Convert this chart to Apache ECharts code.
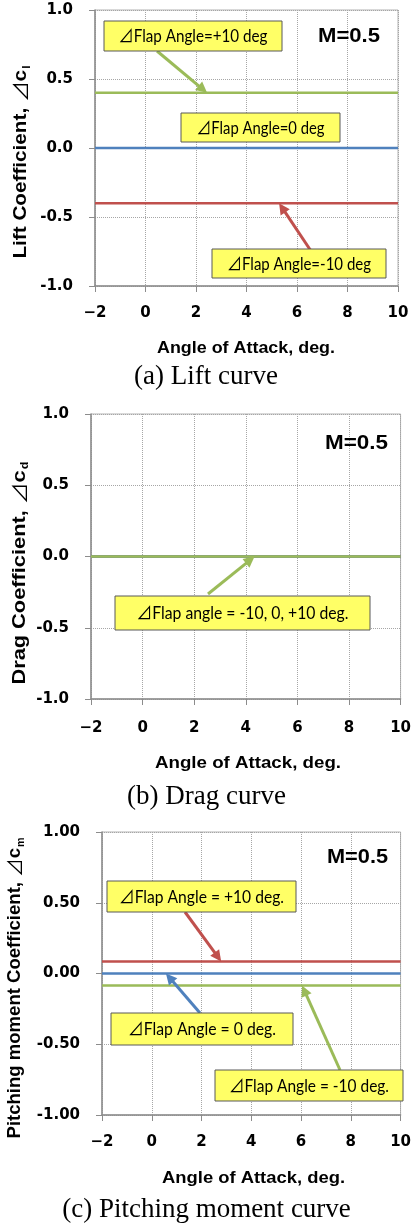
<!DOCTYPE html>
<html><head><meta charset="utf-8">
<script src="https://cdn.jsdelivr.net/npm/echarts@6/dist/echarts.min.js"></script>
<style>html,body{margin:0;padding:0;background:#fff}#c{width:414px;height:1224px}</style>
</head><body><div id="c"></div>
<script>
// ---- data ----
const angles = [-2, 0, 2, 4, 6, 8, 10];
const xTicks = [-2, 0, 2, 4, 6, 8, 10];
const yTicks = [-1.0, -0.5, 0.0, 0.5, 1.0];
const liftPlus10  = [0.40, 0.40, 0.40, 0.40, 0.40, 0.40, 0.40];
const liftZero    = [0, 0, 0, 0, 0, 0, 0];
const liftMinus10 = [-0.40, -0.40, -0.40, -0.40, -0.40, -0.40, -0.40];
const dragPlus10  = [0, 0, 0, 0, 0, 0, 0];
const dragZero    = [0, 0, 0, 0, 0, 0, 0];
const dragMinus10 = [0, 0, 0, 0, 0, 0, 0];
const momentPlus10  = [0.085, 0.085, 0.085, 0.085, 0.085, 0.085, 0.085];
const momentZero    = [0, 0, 0, 0, 0, 0, 0];
const momentMinus10 = [-0.085, -0.085, -0.085, -0.085, -0.085, -0.085, -0.085];

const GREEN = '#9BBB59', BLUE = '#4F81BD', RED = '#C0504D';
const AX = '#8c8c8c';

const chart = echarts.init(document.getElementById('c'));
const zip = v => angles.map((a, i) => [a, v[i]]);

function xAxis(i, margin) {
  return {
    type: 'value', gridIndex: i, min: xTicks[0], max: xTicks[xTicks.length - 1], interval: 2,
    axisLine: { onZero: false, lineStyle: { color: AX, width: 1.5 } },
    axisTick: { show: true, length: 6, lineStyle: { color: AX } },
    axisLabel: { margin: margin, color: '#000', fontFamily: 'DejaVu Sans', fontWeight: 'bold', fontSize: 15,
      formatter: v => v < 0 ? '\u2212' + Math.abs(v) : String(v) },
    splitLine: { show: true, lineStyle: { type: 'dotted', color: '#a6a6a6' } }
  };
}
function yAxis(i, dec) {
  return {
    type: 'value', gridIndex: i, min: yTicks[0], max: yTicks[yTicks.length - 1], interval: 0.5,
    axisLine: { onZero: false, lineStyle: { color: AX, width: 1.5 } },
    axisTick: { show: true, length: 6, lineStyle: { color: AX } },
    axisLabel: { margin: 22, color: '#000', fontFamily: 'DejaVu Sans', fontWeight: 'bold', fontSize: 15,
      formatter: v => v.toFixed(dec) },
    splitLine: { show: true, lineStyle: { type: 'dotted', color: '#a6a6a6' } }
  };
}
function line(g, vals, color) {
  return { type: 'line', xAxisIndex: g, yAxisIndex: g, data: zip(vals), showSymbol: false, symbol: 'none',
    lineStyle: { color: color, width: 2.5 }, itemStyle: { color: color }, silent: true, z: 3 };
}
const gridBase = { show: true, borderColor: '#b3b3b3', borderWidth: 1, backgroundColor: '#fff' };

chart.setOption({
  animation: false,
  backgroundColor: '#fff',
  grid: [
    Object.assign({ left: 95, top: 10, width: 303, height: 276 }, gridBase),
    Object.assign({ left: 91, top: 414, width: 314, height: 285 }, gridBase),
    Object.assign({ left: 102, top: 832, width: 303, height: 283 }, gridBase)
  ],
  xAxis: [xAxis(0, 20), xAxis(1, 22), xAxis(2, 20)],
  yAxis: [yAxis(0, 1), yAxis(1, 1), yAxis(2, 2)],
  series: [
    line(0, liftPlus10, GREEN), line(0, liftZero, BLUE), line(0, liftMinus10, RED),
    line(1, dragMinus10, RED), line(1, dragZero, BLUE), line(1, dragPlus10, GREEN),
    line(2, momentPlus10, RED), line(2, momentZero, BLUE), line(2, momentMinus10, GREEN)
  ]
});

// ---- text / annotations ----
const mctx = document.createElement('canvas').getContext('2d');
function tw(text, font) { mctx.font = font; return mctx.measureText(text).width; }
const TRI = '\u22BF';
const BOXFONT = '17px Lato, "Noto Sans CJK JP"';
const BOLD = '"Liberation Sans", Arial, sans-serif';

const g = [];
function text(x, y, str, font, target, extra) {
  const sx = target ? target / tw(str, font) : 1;
  g.push(Object.assign({ type: 'text', x: x, y: y, scaleX: sx, z: 20,
    style: { text: str, font: font, fill: '#000', align: 'center', verticalAlign: 'middle',
      textAlign: 'center', textVerticalAlign: 'middle' } }, extra || {}));
}
function yTitle(x, y, main, sub, target) {
  const fm = 'bold 19px ' + BOLD, ft = '19px "Noto Sans CJK JP"', fs = 'bold 11px ' + BOLD;
  const nat = tw(main, fm) + tw(TRI, ft) + tw('c', fm) + tw(sub, fs);
  g.push({ type: 'text', x: x, y: y, rotation: Math.PI / 2, scaleX: target / nat, z: 20,
    style: { text: '{a|' + main + '}{t|' + TRI + '}{a|c}{s|' + sub + '}', align: 'center', verticalAlign: 'middle',
      textAlign: 'center', textVerticalAlign: 'middle',
      rich: {
        a: { font: fm, fill: '#000', lineHeight: 22, verticalAlign: 'middle' },
        t: { font: ft, fill: '#000', lineHeight: 22, verticalAlign: 'middle' },
        s: { font: fs, fill: '#000', lineHeight: 22, verticalAlign: 'bottom', padding: [0, 0, 0, 1] }
      } } });
}
function box(x1, y1, x2, y2, str, target) {
  g.push({ type: 'rect', shape: { x: x1, y: y1, width: x2 - x1, height: y2 - y1 }, z: 15,
    style: { fill: '#FFFF66', stroke: '#595959', lineWidth: 1 } });
  text((x1 + x2) / 2, (y1 + y2) / 2 + 1, str, BOXFONT, target);
}
function arrow(tail, grid, xv, yv, color) {
  const tip = chart.convertToPixel({ gridIndex: grid }, [xv, yv]);
  const dx = tip[0] - tail[0], dy = tip[1] - tail[1], L = Math.hypot(dx, dy), ux = dx / L, uy = dy / L;
  const hl = 11, hw = 5.5;
  const bx = tip[0] - ux * hl, by = tip[1] - uy * hl;
  g.push({ type: 'line', z: 12, shape: { x1: tail[0], y1: tail[1], x2: bx + ux * 2, y2: by + uy * 2 },
    style: { stroke: color, lineWidth: 3 } });
  g.push({ type: 'polygon', z: 12, shape: { points: [tip, [bx - uy * hw, by + ux * hw], [bx + uy * hw, by - ux * hw]] },
    style: { fill: color } });
}

// Chart (a)
yTitle(21, 162, 'Lift Coefficient, ', 'l', 192);
text(349, 36, 'M=0.5', 'bold 20px ' + BOLD, 62);
arrow([157, 51], 0, 2.44, liftPlus10[0], GREEN);
arrow([311, 251], 0, 5.29, liftMinus10[0], RED);
box(104, 21, 282, 51, TRI + 'Flap Angle=+10 deg', 149);
box(181, 113, 340, 142, TRI + 'Flap Angle=0 deg', 128);
box(212, 249, 386, 278, TRI + 'Flap Angle=-10 deg', 144);
text(246, 349, 'Angle of Attack, deg.', 'bold 16px ' + BOLD, 178);
text(206, 377, '(a) Lift curve', '27px "Liberation Serif", "Times New Roman", serif', 0);

// Chart (b)
yTitle(19.5, 573, 'Drag Coefficient, ', 'd', 222);
text(356.5, 443, 'M=0.5', 'bold 20px ' + BOLD, 63);
arrow([208, 594], 1, 4.34, dragPlus10[0], GREEN);
box(115, 596, 370, 630, TRI + 'Flap angle = -10, 0, +10 deg.', 212);
text(248, 764, 'Angle of Attack, deg.', 'bold 16px ' + BOLD, 186);
text(206.5, 797, '(b) Drag curve', '27px "Liberation Serif", "Times New Roman", serif', 0);

// Chart (c)
yTitle(15, 988, 'Pitching moment Coefficient, ', 'm', 300);
text(357.5, 857, 'M=0.5', 'bold 20px ' + BOLD, 61);
arrow([185, 912], 2, 2.79, momentPlus10[0], RED);
arrow([200, 1013], 2, 0.57, momentZero[0], BLUE);
arrow([340, 1070], 2, 6.04, momentMinus10[0], GREEN);
box(107, 881, 296, 912, TRI + 'Flap Angle = +10 deg.', 165);
box(111, 1013, 293, 1045, TRI + 'Flap Angle = 0 deg.', 148);
box(215, 1070, 403, 1101, TRI + 'Flap Angle = -10 deg.', 160);
text(253.5, 1179, 'Angle of Attack, deg.', 'bold 16px ' + BOLD, 183);
text(206.5, 1210, '(c) Pitching moment curve', '27px "Liberation Serif", "Times New Roman", serif', 0);

chart.setOption({ graphic: { elements: g } });
</script></body></html>
